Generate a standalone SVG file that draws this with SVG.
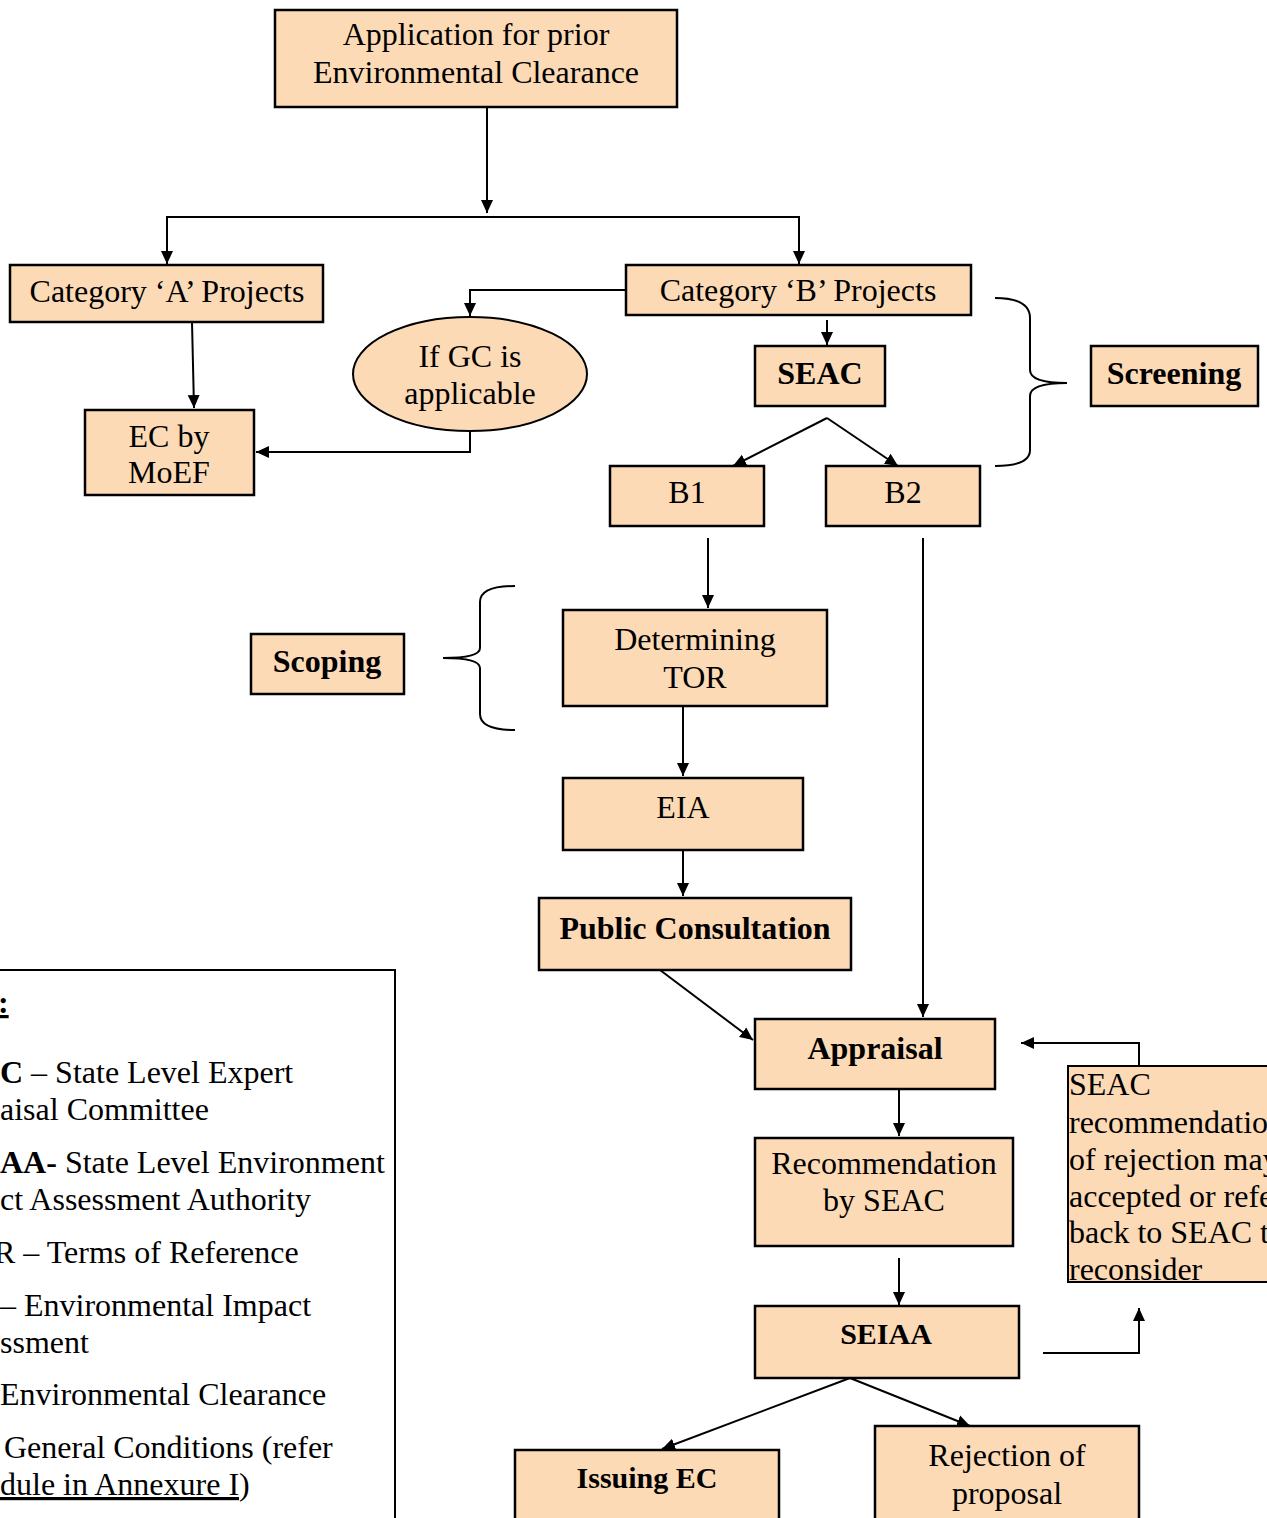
<svg xmlns="http://www.w3.org/2000/svg" width="1267" height="1518" viewBox="0 0 1267 1518">
<defs>
<marker id="ah" markerUnits="userSpaceOnUse" markerWidth="14" markerHeight="14" refX="13" refY="7" orient="auto">
<path d="M0,1 L13,7 L0,13 z" fill="#000"/>
</marker>
<style>
.box{fill:#FCDAB6;stroke:#000;stroke-width:2.5}
.t{font-family:"Liberation Serif","Times New Roman",serif;font-size:32px;fill:#000}
.c{text-anchor:middle}
.b{font-weight:bold}
.conn path{fill:none;stroke:#000;stroke-width:2}
.arr{marker-end:url(#ah)}
</style>
</defs>
<rect width="1267" height="1518" fill="#fff"/>

<g id="connectors" class="conn">
<path class="arr" d="M487,107 V213"/>
<path class="arr" d="M487,217 H167 V264"/>
<path class="arr" d="M487,217 H799 V264"/>
<path class="arr" d="M626,290 H470 V316"/>
<path class="arr" d="M470,431 V452 H256"/>
<path class="arr" d="M192,322 L194,408"/>
<path class="arr" d="M827,320 V345"/>
<path class="arr" d="M827,418 L733,466"/>
<path class="arr" d="M827,418 L898,466"/>
<path class="arr" d="M708,538 V608"/>
<path class="arr" d="M683,706 V776"/>
<path class="arr" d="M683,850 V896"/>
<path class="arr" d="M660,970 L753,1040"/>
<path class="arr" d="M923,538 V1017"/>
<path class="arr" d="M899,1089 V1136"/>
<path class="arr" d="M899,1258 V1305"/>
<path class="arr" d="M1043,1353 H1139 V1308"/>
<path class="arr" d="M1139,1066 V1043 H1021"/>
<path class="arr" d="M850,1378 L662,1449"/>
<path class="arr" d="M850,1378 L970,1426"/>
<path d="M995,298 C1020,298 1030,305 1030,318 V370 C1030,380 1045,383 1067,383 C1045,383 1030,386 1030,396 V450 C1030,460 1020,466 995,466"/>
<path d="M515,586 C490,586 480,592 480,602 V648 C480,655 465,658 443,658 C465,658 480,661 480,668 V714 C480,724 490,730 515,730"/>
</g>

<g id="application">
<rect class="box" x="275" y="10" width="402" height="97"/>
<text class="t c" x="476" y="45">Application for prior</text>
<text class="t c" x="476" y="83">Environmental Clearance</text>
</g>
<g id="catA">
<rect class="box" x="10" y="265" width="313" height="57"/>
<text class="t c" x="167" y="302">Category ‘A’ Projects</text>
</g>
<g id="catB">
<rect class="box" x="626" y="265" width="345" height="50"/>
<text class="t c" x="798" y="301">Category ‘B’ Projects</text>
</g>
<g id="gc">
<ellipse cx="470" cy="374" rx="117" ry="57" fill="#FCDAB6" stroke="#000" stroke-width="2"/>
<text class="t c" x="470" y="367">If GC is</text>
<text class="t c" x="470" y="404">applicable</text>
</g>
<g id="ecmoef">
<rect class="box" x="85" y="410" width="169" height="85"/>
<text class="t c" x="169" y="447">EC by</text>
<text class="t c" x="169" y="483">MoEF</text>
</g>
<g id="seac">
<rect class="box" x="755" y="346" width="130" height="60"/>
<text class="t c b" x="820" y="384">SEAC</text>
</g>
<g id="screening">
<rect class="box" x="1091" y="346" width="167" height="60"/>
<text class="t c b" x="1174" y="384">Screening</text>
</g>
<g id="b1">
<rect class="box" x="610" y="466" width="154" height="60"/>
<text class="t c" x="687" y="503">B1</text>
</g>
<g id="b2">
<rect class="box" x="826" y="466" width="154" height="60"/>
<text class="t c" x="903" y="503">B2</text>
</g>
<g id="tor">
<rect class="box" x="563" y="610" width="264" height="96"/>
<text class="t c" x="695" y="650">Determining</text>
<text class="t c" x="695" y="688">TOR</text>
</g>
<g id="scoping">
<rect class="box" x="251" y="634" width="153" height="60"/>
<text class="t c b" x="327" y="672">Scoping</text>
</g>
<g id="eia">
<rect class="box" x="563" y="778" width="240" height="72"/>
<text class="t c" x="683" y="818">EIA</text>
</g>
<g id="public">
<rect class="box" x="539" y="898" width="312" height="72"/>
<text class="t c b" x="695" y="939">Public Consultation</text>
</g>
<g id="appraisal">
<rect class="box" x="755" y="1019" width="240" height="70"/>
<text class="t c b" x="875" y="1059">Appraisal</text>
</g>
<g id="recommendation">
<rect class="box" x="755" y="1138" width="258" height="108"/>
<text class="t c" x="884" y="1174">Recommendation</text>
<text class="t c" x="884" y="1211">by SEAC</text>
</g>
<g id="seiaa">
<rect class="box" x="755" y="1306" width="264" height="72"/>
<text class="t c b" x="886" y="1344" style="font-size:30px">SEIAA</text>
</g>
<g id="seacrec">
<rect x="1068" y="1066" width="220" height="216" fill="#FCDAB6" stroke="#000" stroke-width="2"/>
<text class="t" x="1069" y="1095">SEAC</text>
<text class="t" x="1069" y="1133">recommendatio</text>
<text class="t" x="1069" y="1170">of rejection may</text>
<text class="t" x="1069" y="1207">accepted or refe</text>
<text class="t" x="1069" y="1243">back to SEAC t</text>
<text class="t" x="1069" y="1280">reconsider</text>
</g>
<g id="issuing">
<rect class="box" x="515" y="1450" width="264" height="80"/>
<text class="t c b" x="647" y="1488" style="font-size:30px">Issuing EC</text>
</g>
<g id="rejection">
<rect class="box" x="875" y="1426" width="264" height="100"/>
<text class="t c" x="1007" y="1466">Rejection of</text>
<text class="t c" x="1007" y="1504">proposal</text>
</g>
<g id="legend">
<rect x="-10" y="970" width="405" height="560" fill="#fff" stroke="#000" stroke-width="2"/>
<text class="t b" x="-2" y="1013" text-decoration="underline">:</text>
<text class="t" x="0" y="1083"><tspan class="b">C</tspan> – State Level Expert</text>
<text class="t" x="0" y="1120">aisal Committee</text>
<text class="t" x="0" y="1173"><tspan class="b">AA-</tspan> State Level Environment</text>
<text class="t" x="0" y="1210">ct Assessment Authority</text>
<text class="t" x="-6" y="1263">R – Terms of Reference</text>
<text class="t" x="0" y="1316">– Environmental Impact</text>
<text class="t" x="0" y="1353">ssment</text>
<text class="t" x="0" y="1405">Environmental Clearance</text>
<text class="t" x="4" y="1458">General Conditions (refer</text>
<text class="t" x="0" y="1495"><tspan text-decoration="underline">dule in Annexure I</tspan>)</text>
</g>
</svg>
